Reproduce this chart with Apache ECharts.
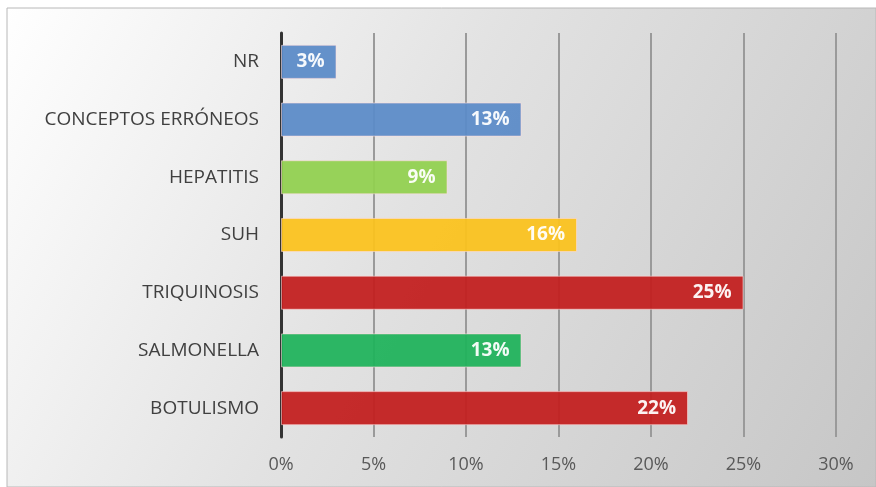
<!DOCTYPE html>
<html><head><meta charset="utf-8">
<script src="https://cdn.jsdelivr.net/npm/echarts@6/dist/echarts.min.js"></script>
<style>html,body{margin:0;padding:0;background:#fff}#c{width:876px;height:487px}</style>
</head><body><div id="c"></div>
<script>
const categories = ['NR','CONCEPTOS ERRÓNEOS','HEPATITIS','SUH','TRIQUINOSIS','SALMONELLA','BOTULISMO'];
const values = [3,13,9,16,25,13,22];
const barColors = ['#5b8bc8','#5b8bc8','#92d050','#fbc21e','#c21f1f','#20b25b','#c21f1f'];
const xTicks = [0,5,10,15,20,25,30];

const chart = echarts.init(document.getElementById('c'));
chart.setOption({
  animation:false,
  graphic:[{type:'rect',z:-10,shape:{x:7,y:8,width:869,height:479},
    style:{fill:new echarts.graphic.LinearGradient(0,0,1,1,[{offset:0,color:'#ffffff'},{offset:0.45,color:'#e2e2e2'},{offset:1,color:'#c6c6c6'}]),
    stroke:'#b8b8b8',lineWidth:1}}],
  grid:{left:281,right:40,top:33,bottom:50,containLabel:false},
  xAxis:{type:'value',min:xTicks[0],max:xTicks[xTicks.length-1],interval:5,
    axisLabel:{formatter:v=>v+'%',color:'#595959',fontSize:18,fontFamily:'Open Sans',margin:19},
    splitLine:{show:true,lineStyle:{color:'#9a9a9a',width:2}},
    axisLine:{show:false},axisTick:{show:false}},
  yAxis:{type:'category',data:categories,inverse:true,
    axisLine:{show:true,lineStyle:{color:'#333333',width:3}},
    axisTick:{show:false},
    axisLabel:{color:'#404040',fontSize:19,fontFamily:'Open Sans',margin:22}},
  series:[{type:'bar',barWidth:'59%',
    data:values.map((v,i)=>({value:v,itemStyle:{color:barColors[i],opacity:0.94,borderColor:'rgba(255,220,220,0.6)',borderWidth:1}})),
    label:{show:true,position:'insideRight',formatter:p=>p.value+'%',color:'#ffffff',fontWeight:'bold',fontSize:19,fontFamily:'Open Sans',offset:[-7,0]}}]
});
</script></body></html>
